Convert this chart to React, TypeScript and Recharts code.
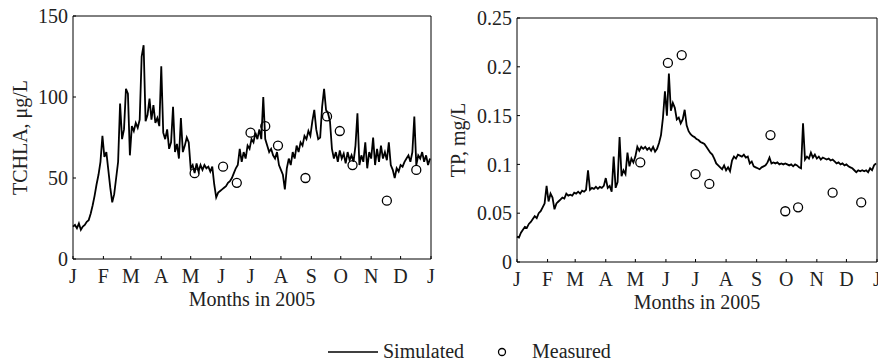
import { ComposedChart, Line, Scatter, XAxis, YAxis } from 'recharts';

const FONT = "'Liberation Serif', 'Times New Roman', serif";

// month starts (day of year) and their one-letter labels
const monthTicks = [0, 31, 59, 90, 120, 151, 181, 212, 243, 273, 304, 334, 365];
const monthLabels = ['J', 'F', 'M', 'A', 'M', 'J', 'J', 'A', 'S', 'O', 'N', 'D', 'J'];

const SIM_STEP = 2; // days between simulated samples

// simulated TCHLA, ug/L, every 2 days from Jan 1
const tchlaSim = [
  20, 21, 19, 22, 18, 20, 21, 23, 24, 28, 33, 39, 46, 52,
  60, 76, 63, 66, 55, 44, 35, 40, 50, 60, 96, 74, 80, 105, 102, 64,
  82, 79, 84, 81, 86, 125, 132, 85, 89, 99, 86, 95, 84, 87, 82, 119,
  78, 74, 80, 68, 72, 94, 66, 71, 62, 87, 66, 70, 75, 72,
  56, 58, 53, 59, 54, 58, 55, 58, 56, 57, 54, 57,
  46, 38, 41, 42, 43, 44, 45, 47, 48, 50, 53, 56, 58, 68, 60, 66, 62, 70,
  68, 74, 72, 78, 74, 80, 74, 100, 74, 70, 66, 68, 64, 62, 66, 58, 55, 52,
  43, 56, 62, 58, 66, 62, 70, 66, 72, 70, 76, 74, 79, 76, 85, 92, 80, 74,
  75, 94, 105, 92, 90, 85, 68, 62, 66, 60, 67, 62, 65, 59, 66, 61, 64, 60,
  70, 90, 58, 64, 60, 72, 56, 66, 62, 75, 58, 68, 60, 70, 62, 66, 61, 72,
  58, 55, 50, 56, 54, 58, 57, 60, 62, 64, 60, 66, 88, 58, 64, 62, 66, 60,
  64, 58, 62,
];

// simulated TP, mg/L, every 2 days from Jan 1
const tpSim = [
  0.026, 0.025, 0.030, 0.033, 0.036, 0.035, 0.039, 0.041, 0.044, 0.047,
  0.045, 0.050, 0.052, 0.056, 0.060, 0.078, 0.062, 0.070, 0.066, 0.054,
  0.060, 0.062, 0.064, 0.066, 0.065, 0.070, 0.068, 0.069, 0.068, 0.071,
  0.070, 0.072, 0.070, 0.073, 0.072, 0.074, 0.094, 0.074, 0.076, 0.075,
  0.077, 0.075, 0.077, 0.076, 0.078, 0.086, 0.076, 0.078, 0.072, 0.108,
  0.076, 0.082, 0.128, 0.088, 0.094, 0.090, 0.112, 0.098, 0.106, 0.102,
  0.108, 0.118, 0.114, 0.118, 0.116, 0.118, 0.115, 0.117, 0.114, 0.118,
  0.113, 0.116, 0.122, 0.130, 0.148, 0.175, 0.150, 0.193, 0.155, 0.163,
  0.158, 0.146, 0.148, 0.142, 0.146, 0.156, 0.140, 0.134, 0.131, 0.129,
  0.128, 0.126, 0.125, 0.123, 0.122, 0.121, 0.118, 0.115, 0.112, 0.110,
  0.106, 0.101, 0.099, 0.097, 0.095, 0.099, 0.094, 0.097, 0.093, 0.104,
  0.108, 0.106, 0.110, 0.109, 0.108, 0.110, 0.107, 0.108, 0.101, 0.103,
  0.098, 0.097, 0.096, 0.095, 0.097, 0.098, 0.099, 0.102, 0.107, 0.101,
  0.102, 0.101, 0.102, 0.100, 0.101, 0.100, 0.101, 0.100, 0.099, 0.100,
  0.098, 0.100, 0.099, 0.097, 0.096, 0.142, 0.105, 0.108, 0.106, 0.112,
  0.107, 0.110, 0.106, 0.108, 0.105, 0.107, 0.106, 0.105, 0.106, 0.104,
  0.105, 0.103, 0.101, 0.102, 0.100, 0.101, 0.099, 0.100, 0.098, 0.097,
  0.096, 0.094, 0.092, 0.094, 0.093, 0.094, 0.093, 0.094, 0.092, 0.096,
  0.094, 0.099, 0.101,
];

// measured samples
const tchlaMeasDays = [124, 153, 167, 181, 196, 209, 237, 259, 272, 285, 320, 350];
const tchlaMeas = [53, 57, 47, 78, 82, 70, 50, 88, 79, 58, 36, 55];
const tpMeasDays = [125, 153, 167, 181, 195, 257, 272, 285, 320, 349];
const tpMeas = [0.102, 0.204, 0.212, 0.09, 0.08, 0.13, 0.052, 0.056, 0.071, 0.061];

const simRows = (vals: number[]) => vals.map((v, i) => ({ day: i * SIM_STEP, v }));
const measRows = (days: number[], vals: number[]) => days.map((d, i) => ({ day: d, v: vals[i] }));

const tickStyle = { fill: '#222', fontSize: 20, fontFamily: FONT };
const titleStyle = { fill: '#222', fontSize: 20, fontFamily: FONT, textAnchor: 'middle' as const };

const Circle = (p: any) => (
  <circle cx={p.cx} cy={p.cy} r={4.5} fill="none" stroke="#000" strokeWidth={1.3} />
);

interface PanelProps {
  width: number;
  margin: { top: number; right: number; bottom: number; left: number };
  sim: { day: number; v: number }[];
  meas: { day: number; v: number }[];
  yDomain: [number, number];
  yTicks: number[];
  yLabel: string;
  labelOffset: number;
}

function Panel({ width, margin, sim, meas, yDomain, yTicks, yLabel, labelOffset }: PanelProps) {
  return (
    <ComposedChart width={width} height={320} margin={margin}>
      <XAxis
        xAxisId="b"
        type="number"
        dataKey="day"
        domain={[0, 365]}
        ticks={monthTicks}
        interval={0}
        tickFormatter={(d: number) => monthLabels[monthTicks.indexOf(d)]}
        tickSize={-3}
        tickMargin={13}
        height={50}
        stroke="#000"
        tick={tickStyle}
        label={{ value: 'Months in 2005', position: 'insideBottom', offset: 3, style: titleStyle }}
      />
      <XAxis
        xAxisId="t"
        orientation="top"
        type="number"
        domain={[0, 365]}
        ticks={monthTicks}
        interval={0}
        tick={false}
        tickSize={-3}
        height={1}
        stroke="#000"
      />
      <YAxis
        yAxisId="l"
        type="number"
        domain={yDomain}
        ticks={yTicks}
        interval={0}
        width={60}
        tickSize={-3}
        tickMargin={8}
        stroke="#000"
        tick={tickStyle}
        label={{ value: yLabel, angle: -90, position: 'insideLeft', offset: labelOffset, style: titleStyle }}
      />
      <YAxis
        yAxisId="r"
        orientation="right"
        type="number"
        domain={yDomain}
        ticks={yTicks}
        interval={0}
        tick={false}
        tickSize={-3}
        width={1}
        stroke="#000"
      />
      <Line
        xAxisId="b"
        yAxisId="l"
        data={sim}
        dataKey="v"
        type="linear"
        stroke="#000"
        strokeWidth={1.8}
        dot={false}
        isAnimationActive={false}
      />
      <Scatter
        xAxisId="b"
        yAxisId="l"
        data={meas}
        dataKey="v"
        shape={Circle}
        isAnimationActive={false}
      />
    </ComposedChart>
  );
}

const legendText = {
  position: 'absolute' as const,
  top: 342,
  fontSize: 20,
  lineHeight: '18px',
  color: '#222',
  whiteSpace: 'nowrap' as const,
};

export default function App() {
  return (
    <div
      style={{
        position: 'absolute',
        left: 0,
        top: 0,
        width: 878,
        height: 361,
        background: '#fff',
        fontFamily: FONT,
        overflow: 'hidden',
      }}
    >
      <div style={{ position: 'absolute', left: 0, top: 0 }}>
        <Panel
          width={440}
          margin={{ top: 15, right: 8, bottom: 11, left: 13 }}
          sim={simRows(tchlaSim)}
          meas={measRows(tchlaMeasDays, tchlaMeas)}
          yDomain={[0, 150]}
          yTicks={[0, 50, 100, 150]}
          yLabel="TCHLA, μg/L"
          labelOffset={7}
        />
      </div>
      <div style={{ position: 'absolute', left: 440, top: 0 }}>
        <Panel
          width={438}
          margin={{ top: 17, right: 0, bottom: 8, left: 17 }}
          sim={simRows(tpSim)}
          meas={measRows(tpMeasDays, tpMeas)}
          yDomain={[0, 0.25]}
          yTicks={[0, 0.05, 0.1, 0.15, 0.2, 0.25]}
          yLabel="TP, mg/L"
          labelOffset={1}
        />
      </div>

      {/* shared legend */}
      <svg style={{ position: 'absolute', left: 328, top: 342 }} width={50} height={18}>
        <line x1={0} y1={10} x2={50} y2={10} stroke="#000" strokeWidth={1.5} />
      </svg>
      <span style={{ ...legendText, left: 383 }}>Simulated</span>
      <svg style={{ position: 'absolute', left: 494, top: 342 }} width={16} height={18}>
        <circle cx={8} cy={10} r={3.5} fill="none" stroke="#000" strokeWidth={1.3} />
      </svg>
      <span style={{ ...legendText, left: 532 }}>Measured</span>
    </div>
  );
}
